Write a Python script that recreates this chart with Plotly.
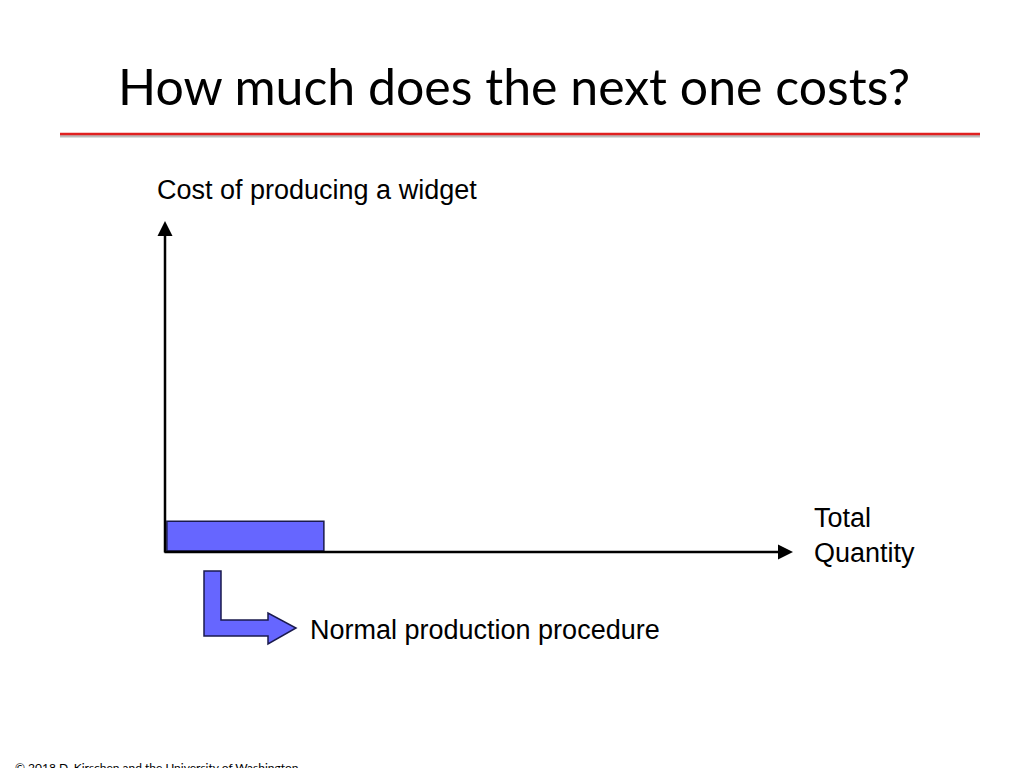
import plotly.graph_objects as go

quantities = [2.5]
costs = [0.9]
bar_labels = ["Normal production procedure"]

L, R, T, B = 157, 785, 213, 544
def px(x): return (x - L) / (R - L)
def py(y): return (B - y) / (B - T)

fig = go.Figure(go.Bar(x=[q / 2 + 0.03 for q in quantities], y=costs, width=quantities, base=0.03,
                       marker=dict(color="#6666ff", line=dict(color="#1a1a4d", width=1.5))))
fig.update_layout(width=1024, height=768, plot_bgcolor="white", paper_bgcolor="white",
                  margin=dict(l=L, r=1024 - R, t=T, b=768 - B), showlegend=False,
                  xaxis=dict(range=[0, 10], visible=False), yaxis=dict(range=[0, 10], visible=False))

shapes = [
    dict(type="line", xref="paper", yref="paper", x0=px(52), x1=px(972), y0=py(128), y1=py(128),
         line=dict(color="#bbbbbb", width=3)),
    dict(type="line", xref="paper", yref="paper", x0=px(52), x1=px(972), y0=py(126), y1=py(126),
         line=dict(color="#e02020", width=2.5)),
]
pts = [(196,563),(213,563),(213,612),(260,612),(260,605),(288,620),(260,636),(260,628),(196,628)]
path = "M " + " L ".join(f"{px(x)},{py(y)}" for x, y in pts) + " Z"
shapes.append(dict(type="path", xref="paper", yref="paper", path=path,
                   fillcolor="#6666ff", line=dict(color="#1a1a4d", width=1.5)))
fig.update_layout(shapes=shapes)

ann = [
    dict(x=px(157), y=py(213), ax=px(157), ay=py(546), axref="x domain", ayref="y domain",
         xref="x domain", yref="y domain", showarrow=True, arrowhead=2, arrowsize=1.2, arrowwidth=2.5, arrowcolor="black", text=""),
    dict(x=px(785), y=py(544), ax=px(155), ay=py(544), axref="x domain", ayref="y domain",
         xref="x domain", yref="y domain", showarrow=True, arrowhead=2, arrowsize=1.2, arrowwidth=2.5, arrowcolor="black", text=""),
]
def txt(s, x, y, size, font="Liberation Sans", xa="left", ya="middle", color="black"):
    ann.append(dict(text=s, x=px(x), y=py(y), xref="paper", yref="paper", showarrow=False,
                    xanchor=xa, yanchor=ya, align="left", font=dict(family=font, size=size, color=color)))
txt("How much does the next one costs?", 506, 78, 50, font="Lato", xa="center")
txt("Cost of producing a widget", 147, 182, 27)
txt("Total<br>Quantity", 804, 527, 27)
txt(bar_labels[0], 300, 622, 27)
txt("© 2018 D. Kirschen and the University of Washington", 5, 759, 12, font="Lato")
txt("8", 1017, 757, 12, font="Lato", xa="right")
fig.update_layout(annotations=ann)
fig.write_html("out.html")
